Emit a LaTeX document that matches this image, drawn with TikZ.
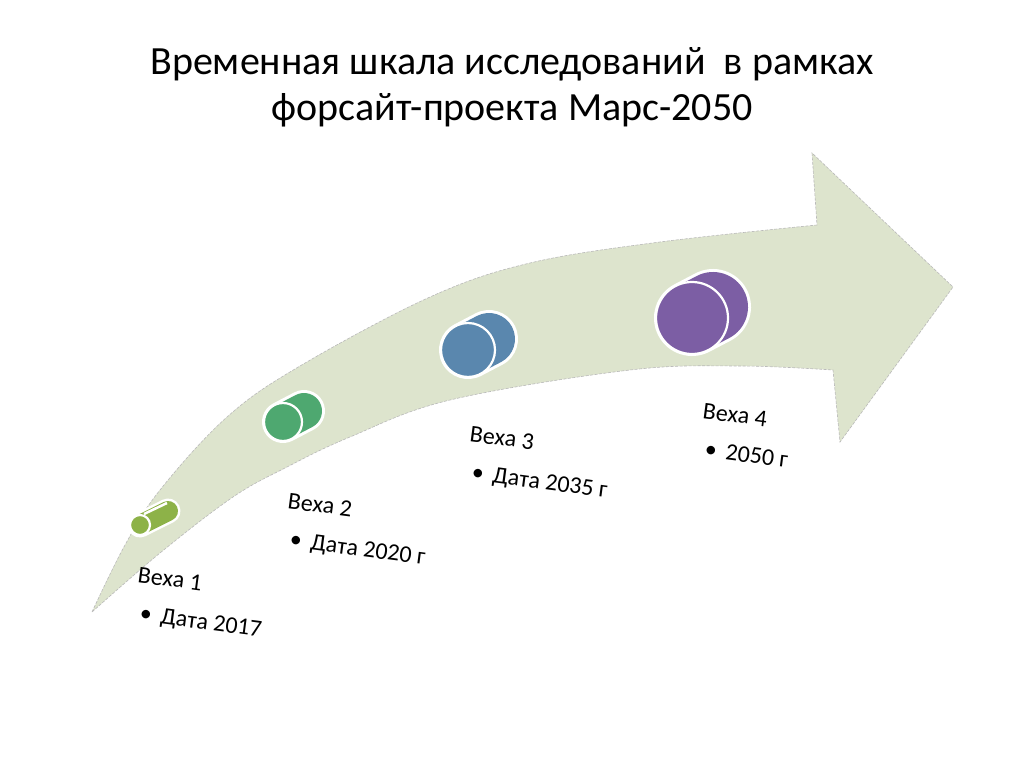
\documentclass[tikz,border=0pt]{standalone}
\usepackage{fontspec}
\setmainfont{Carlito}
\usepackage{xcolor}
\usetikzlibrary{positioning}

\definecolor{sage}{RGB}{221,228,205}
\definecolor{vehaA}{RGB}{141,178,72}
\definecolor{vehaB}{RGB}{78,168,112}
\definecolor{vehaC}{RGB}{90,135,174}
\definecolor{vehaD}{RGB}{124,94,164}

\begin{document}
\begin{tikzpicture}[x=1pt, y=-1pt,
		veha/.style={font=\fontsize{24}{38}\selectfont, align=left, rotate=-7.5, anchor=base west, inner sep=0pt},
		edge/.style={draw=gray!55, line width=0.6pt, dash pattern=on 3pt off 1.5pt}]
				\useasboundingbox (0,0) rectangle (1024,767);
				\fill[white] (0,0) rectangle (1024,767);
				
				\node (title) [align=center, anchor=base, font=\fontsize{40}{46}\selectfont]
				at (512,121) {Временная шкала исследований\ \ в рамках\\форсайт-проекта Марс-2050};
				
				% curved arrow
				\filldraw [fill=sage, edge]
				plot [smooth, tension=0.6] coordinates {(92,612) (125,545) (160,490) (227,417) (300,366) (430,297) (530,263) (660,242) (817,225)}
				-- (812,153) -- (953,287) -- (840,442) --
				plot [smooth, tension=0.6] coordinates {(833,370) (740,366) (630,370) (450,400) (350,437) (287,467) (233,497) (160,553) (92,612)}
				-- cycle;
				
				% small cylinder
				\draw[white, line width=25pt, line cap=round] (140,525)--(168,511);
				\draw[vehaA, line width=20pt, line cap=round] (140,525)--(168,511);
				\draw[white, line width=2.5pt] (144,514)--(167,503);
				\filldraw[fill=vehaA, draw=white, line width=2.2pt] (140,525) circle (10);
				
				% discs
				\foreach \x/\y/\r/\c in {283/422/19/vehaB, 468/350/27/vehaC, 692/318/36/vehaD}{
					\draw[white, line width=2*\r+4, line cap=round] (\x,\y)--(\x+21,\y-11);
					\draw[\c, line width=2*\r-2, line cap=round] (\x,\y)--(\x+21,\y-11);
					\filldraw[fill=\c, draw=white, line width=2.2pt] (\x,\y) circle (\r);
				}
				
				\node (v1) [veha] at (132,620) {Веха 1\\\hspace*{7pt}\textbullet\hspace{9pt}Дата 2017};
				\node (v2) [veha] at (282,546) {Веха 2\\\hspace*{7pt}\textbullet\hspace{9pt}Дата 2020 г};
				\node (v3) [veha] at (464,479) {Веха 3\\\hspace*{7pt}\textbullet\hspace{9pt}Дата 2035 г};
				\node (v4) [veha] at (697,456) {Веха 4\\\hspace*{7pt}\textbullet\hspace{9pt}2050 г};
			\end{tikzpicture}
\end{document}
